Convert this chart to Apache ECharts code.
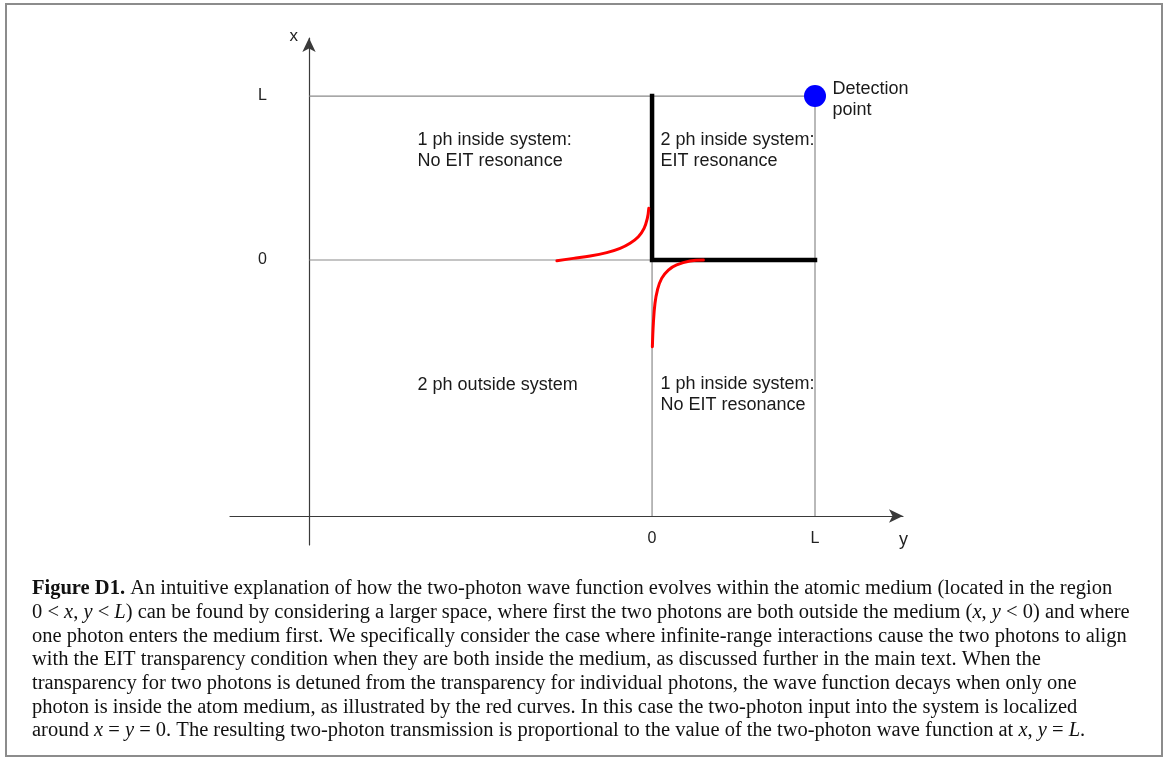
<!DOCTYPE html>
<html>
<head>
<meta charset="utf-8">
<script src="https://cdn.jsdelivr.net/npm/echarts@6/dist/echarts.min.js"></script>
<style>
  html, body { margin: 0; padding: 0; background: #fff; }
  #chart { width: 1168px; height: 758px; }
</style>
</head>
<body>
<div id="chart"></div>
<script>
// ---- data (horizontal axis = y, vertical axis = x, in units of L) ----
const tickValues = [0, 1];
const tickLabels = ['0', 'L'];
const axisNames = { horizontal: 'y', vertical: 'x' };

// region boundary lines (thin grey)
const lineXeqL = [[-2.104, 1], [1, 1]];
const lineXeq0 = [[-2.104, 0], [0, 0]];
const lineYeq0 = [[0, -1.561], [0, 0]];
const lineYeqL = [[1, -1.561], [1, 1]];
// boundary of the "both inside" region (thick black)
const thickBoundary = [[0, 1], [0, 0], [1, 0]];

// red decaying wave-function curves
const redCurveUpper = [[-0.584, -0.004], [-0.483, 0.010], [-0.380, 0.024], [-0.278, 0.045], [-0.196, 0.071],
  [-0.135, 0.102], [-0.084, 0.142], [-0.049, 0.193], [-0.029, 0.254], [-0.020, 0.315]];
const redCurveLower = [[0.315, 0.0], [0.233, -0.006], [0.151, -0.030], [0.100, -0.061], [0.059, -0.112],
  [0.033, -0.183], [0.018, -0.264], [0.008, -0.386], [0.002, -0.529]];

const detectionPoint = [[1, 1]];

const annotationTexts = [
  '1 ph inside system:\nNo EIT resonance',
  '2 ph inside system:\nEIT resonance',
  '2 ph outside system',
  '1 ph inside system:\nNo EIT resonance',
  'Detection\npoint'
];
const annotationAnchors = [[-1.442, 0.668], [0.049, 0.668], [-1.442, -0.762], [0.049, -0.823], [1.104, 0.979]];

const captionLines = [
  '{b|Figure D1.} An intuitive explanation of how the two-photon wave function evolves within the atomic medium (located in the region',
  '0 < {i|x}, {i|y} < {i|L}) can be found by considering a larger space, where first the two photons are both outside the medium ({i|x}, {i|y} < 0) and where',
  'one photon enters the medium first. We specifically consider the case where infinite-range interactions cause the two photons to align',
  'with the EIT transparency condition when they are both inside the medium, as discussed further in the main text. When the',
  'transparency for two photons is detuned from the transparency for individual photons, the wave function decays when only one',
  'photon is inside the atom medium, as illustrated by the red curves. In this case the two-photon input into the system is localized',
  'around {i|x} = {i|y} = 0. The resulting two-photon transmission is proportional to the value of the two-photon wave function at {i|x}, {i|y} = {i|L}.'
];

// ---- chart ----
const SANS = 'Liberation Sans, Arial, sans-serif';
const SERIF = 'Liberation Serif, Times New Roman, serif';
const CAP_SIZE = 20.5, CAP_LH = 23.7;
const chart = echarts.init(document.getElementById('chart'), null, { renderer: 'canvas' });
const fmt = v => { const i = tickValues.indexOf(Math.round(v * 1000) / 1000); return i >= 0 ? tickLabels[i] : ''; };

const thinStyle = { color: '#8a8a8a', width: 1.2 };
const thinSeries = [lineXeqL, lineXeq0, lineYeq0, lineYeqL].map(d => ({
  type: 'line', data: d, symbol: 'none', lineStyle: thinStyle, silent: true, z: 2
}));

chart.setOption({
  animation: false,
  backgroundColor: '#fff',
  grid: { left: 230, right: 265, top: 38, bottom: 213 },
  title: {
    text: captionLines.join('\n'),
    left: 32, top: 577, padding: 0,
    textStyle: {
      fontFamily: SERIF, fontSize: CAP_SIZE, fontWeight: 'normal', color: '#111', lineHeight: CAP_LH,
      rich: {
        b: { fontFamily: SERIF, fontSize: CAP_SIZE, fontWeight: 'bold', color: '#111', lineHeight: CAP_LH },
        i: { fontFamily: SERIF, fontSize: CAP_SIZE, fontStyle: 'italic', color: '#111', lineHeight: CAP_LH }
      }
    }
  },
  graphic: [{
    type: 'rect', shape: { x: 6, y: 4, width: 1156, height: 752 },
    style: { fill: 'none', stroke: '#8c8c8c', lineWidth: 2 }, silent: true, z: 100
  }],
  xAxis: {
    type: 'value', min: -2.59, max: 1.54, offset: -29,
    axisLine: { show: true, onZero: false, symbol: ['none', 'arrow'], symbolSize: [10, 14],
      lineStyle: { color: '#3a3a3a', width: 1.2 } },
    axisTick: { show: false }, splitLine: { show: false },
    axisLabel: { customValues: tickValues, formatter: fmt, margin: 15, fontSize: 16, color: '#222', fontFamily: SANS },
    name: axisNames.horizontal, nameLocation: 'end', nameGap: -4,
    nameTextStyle: { fontSize: 18, color: '#222', fontFamily: SANS, verticalAlign: 'top', padding: [15, 0, 0, 0] }
  },
  yAxis: {
    type: 'value', min: -1.738, max: 1.354, offset: -79,
    axisLine: { show: true, onZero: false, symbol: ['none', 'arrow'], symbolSize: [10, 14],
      lineStyle: { color: '#3a3a3a', width: 1.2 } },
    axisTick: { show: false }, splitLine: { show: false },
    axisLabel: { customValues: tickValues, formatter: fmt, margin: 42, fontSize: 16, color: '#222', fontFamily: SANS },
    name: axisNames.vertical, nameLocation: 'end', nameGap: -7,
    nameTextStyle: { fontSize: 17, color: '#222', fontFamily: SANS, align: 'right', verticalAlign: 'bottom', padding: [0, 11, 0, 0] }
  },
  series: [
    ...thinSeries,
    { type: 'line', data: thickBoundary, symbol: 'none', lineStyle: { color: '#000', width: 4.5, join: 'miter', cap: 'square' }, z: 3, silent: true },
    { type: 'line', data: redCurveUpper, symbol: 'none', smooth: 0.4, lineStyle: { color: '#f00', width: 3, cap: 'round' }, z: 4, silent: true },
    { type: 'line', data: redCurveLower, symbol: 'none', smooth: 0.4, lineStyle: { color: '#f00', width: 3, cap: 'round' }, z: 4, silent: true },
    { type: 'scatter', data: detectionPoint, symbol: 'circle', symbolSize: 22, itemStyle: { color: '#0000ff', opacity: 1 }, z: 5, silent: true },
    {
      type: 'scatter', silent: true, z: 6, symbolSize: 1, itemStyle: { color: 'rgba(0,0,0,0)', opacity: 1 },
      data: annotationAnchors.map((p, i) => ({ value: p, label: { formatter: annotationTexts[i] } })),
      label: { show: true, position: 'right', distance: 0, align: 'left', fontSize: 18, lineHeight: 21,
        color: '#1a1a1a', fontFamily: SANS, opacity: 1 }
    }
  ]
});
</script>
</body>
</html>
